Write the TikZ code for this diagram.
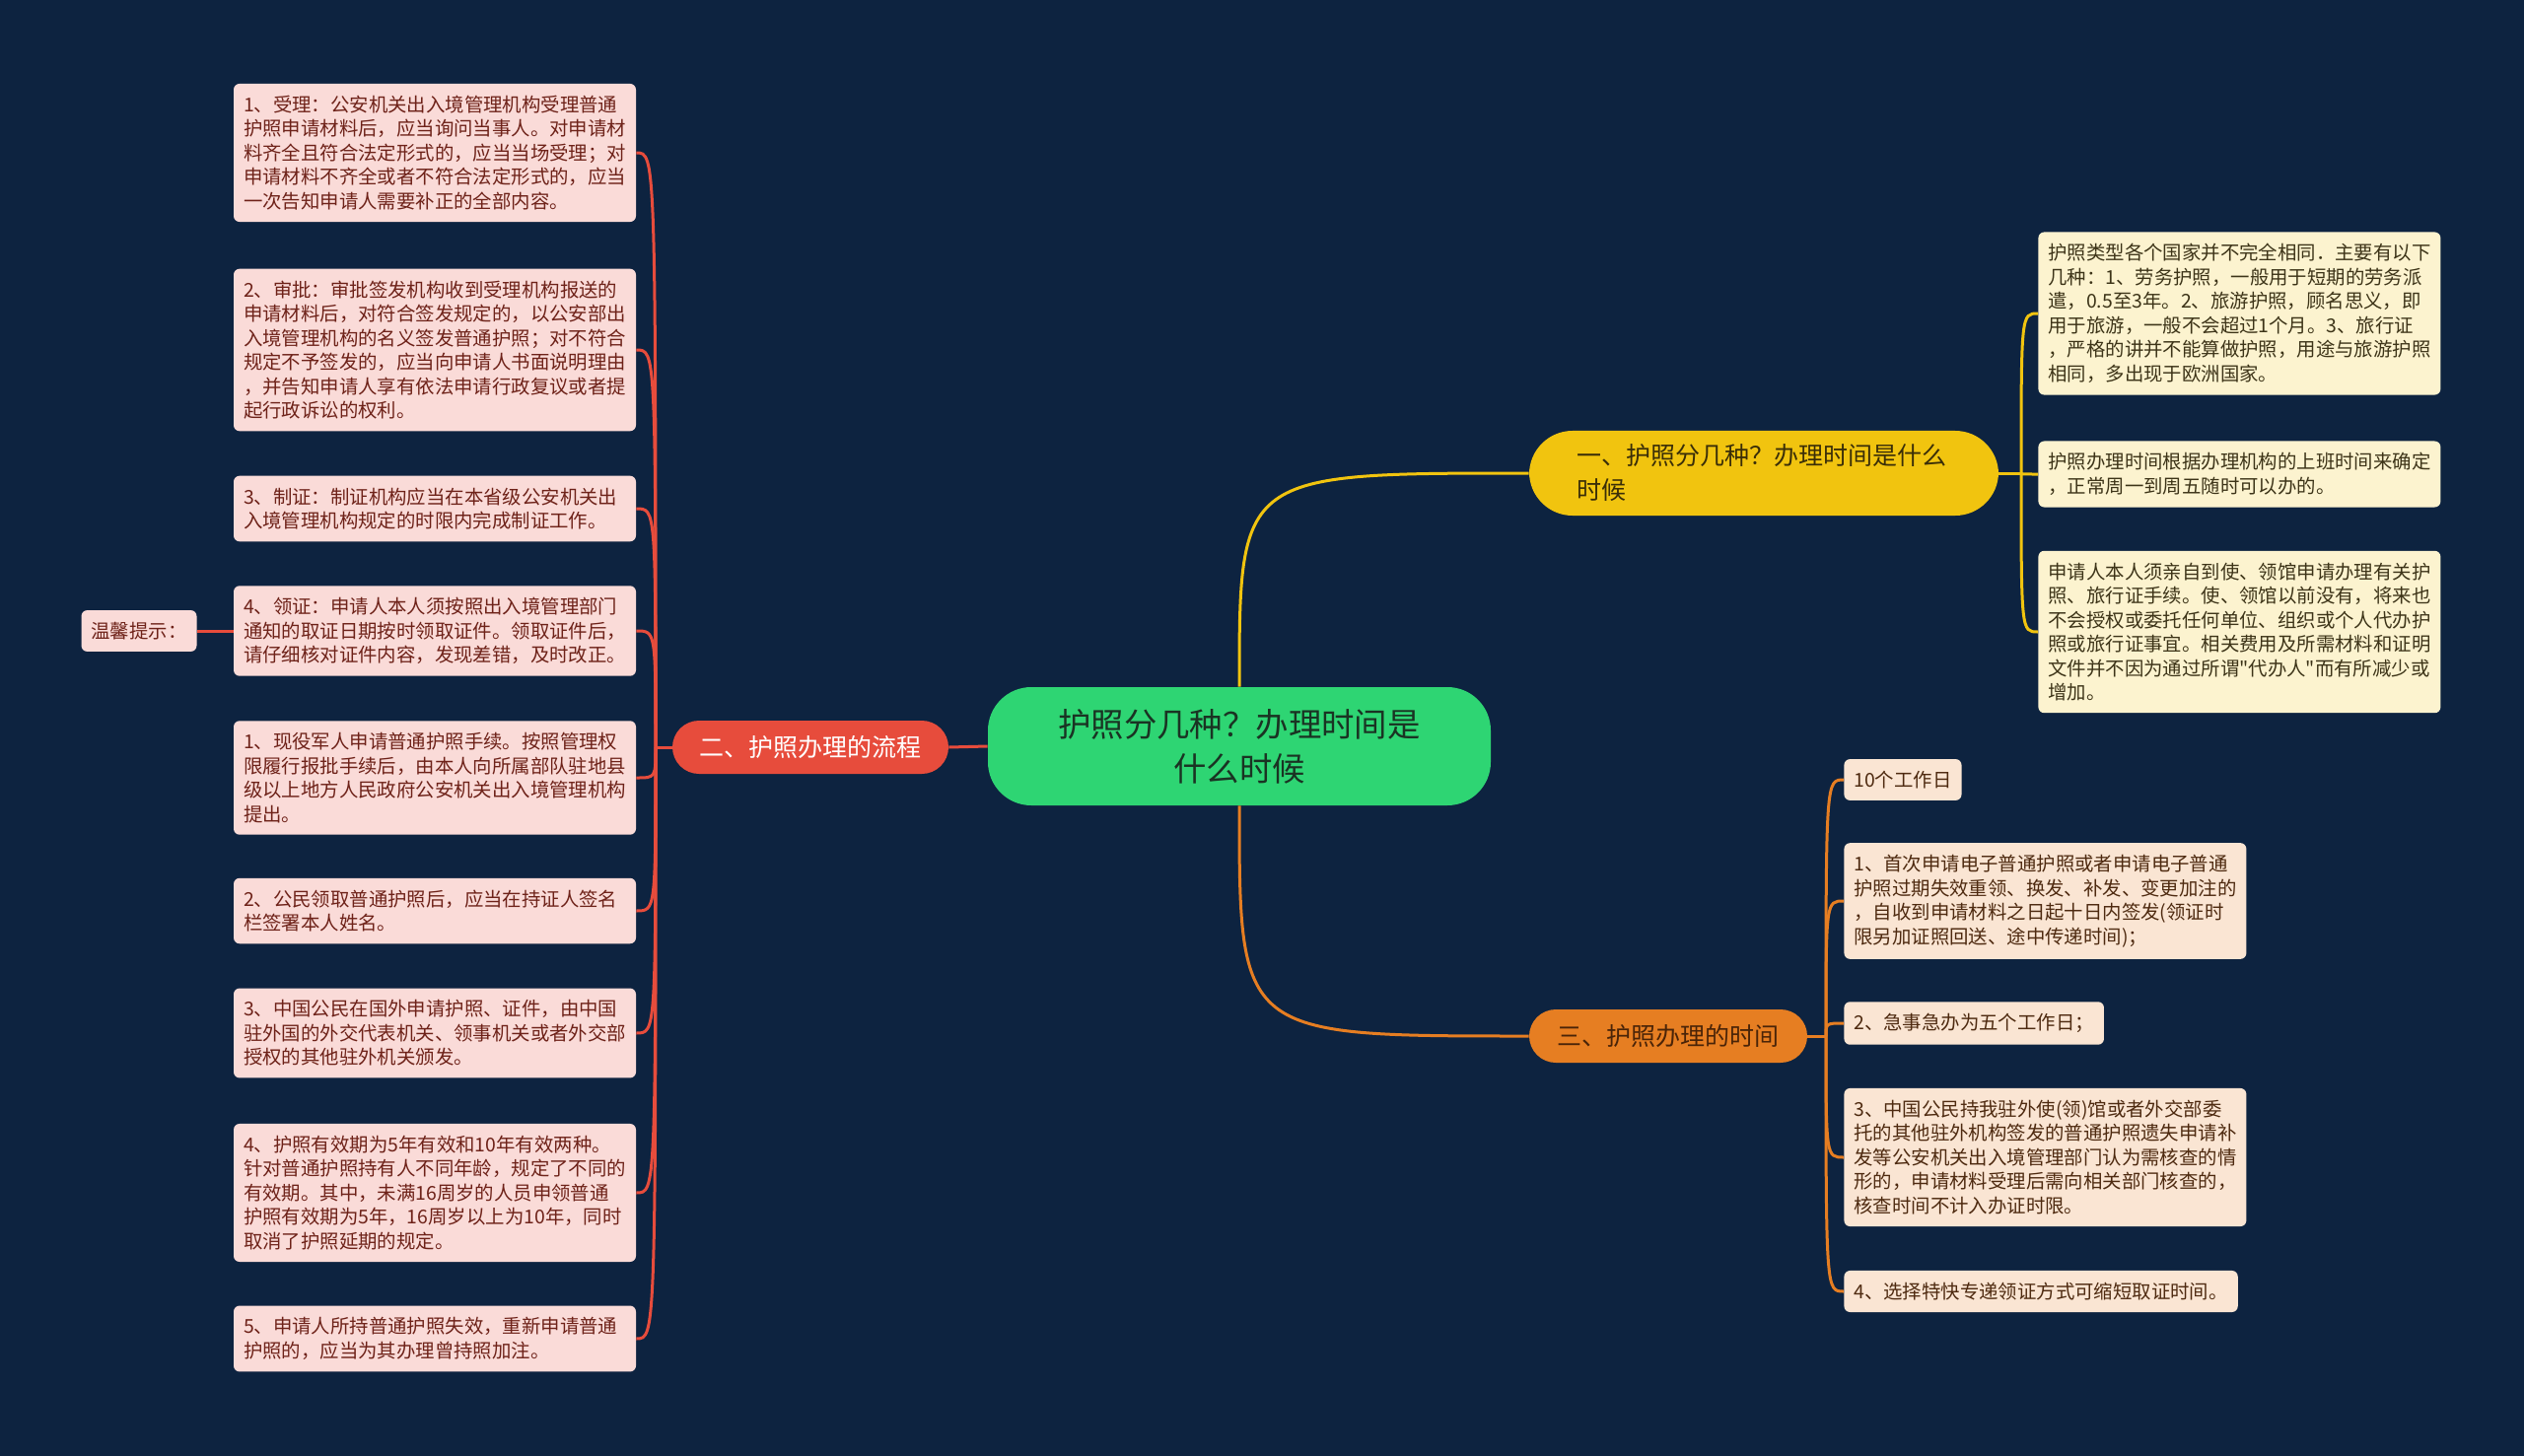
\documentclass[tikz,border=0pt]{standalone}
\usepackage{fontspec}
\setmainfont{Noto Sans CJK SC}[Ligatures=TeXOff]

\definecolor{bgnavy}{HTML}{0D2340}
\definecolor{rootgreen}{HTML}{2ED573}
\definecolor{roottext}{HTML}{1A3323}
\definecolor{ybranch}{HTML}{F1C40F}
\definecolor{ytext}{HTML}{3A2E08}
\definecolor{rbranch}{HTML}{E74C3C}
\definecolor{obranch}{HTML}{E67E22}
\definecolor{otext}{HTML}{4A2408}
\definecolor{pinkleaf}{HTML}{FADBD8}
\definecolor{pinktext}{HTML}{6E2219}
\definecolor{yleaf}{HTML}{FCF3CF}
\definecolor{yleaftext}{HTML}{3D3418}
\definecolor{oleaf}{HTML}{FAE5D3}
\definecolor{oleaftext}{HTML}{4E2A10}

\begin{document}
\begin{tikzpicture}[x=0.5pt, y=-0.5pt,
  root/.style={rectangle, rounded corners=22pt, fill=rootgreen, text=roottext,
    minimum width=255pt, minimum height=60pt, align=center,
    font=\fontsize{16.7pt}{22.5pt}\selectfont},
  branch/.style={rectangle, rounded corners=13.5pt, minimum height=27pt,
    align=center, font=\fontsize{12.5pt}{17.5pt}\selectfont},
  leaf/.style={rectangle, rounded corners=3pt, inner xsep=5pt, inner ysep=6pt,
    align=left, font=\fontsize{9.7pt}{12.25pt}\selectfont},
  pleaf/.style={leaf, fill=pinkleaf, text=pinktext},
  yleafbox/.style={leaf, fill=yleaf, text=yleaftext},
  oleafbox/.style={leaf, fill=oleaf, text=oleaftext},
  rline/.style={draw=rbranch, line width=1.5pt},
  yline/.style={draw=ybranch, line width=1.5pt},
  oline/.style={draw=obranch, line width=1.5pt}]
  % background
  \fill[bgnavy] (0,0) rectangle (2560,1477);
  \useasboundingbox (0,0) rectangle (2560,1477);

  % central topic and main branches
  \node[root] (root) at (1257,757) {护照分几种？办理时间是\\什么时候};
  \node[branch, fill=ybranch, text=ytext, rounded corners=22pt, text width=190pt,
    inner xsep=24pt, inner ysep=7pt, align=left] (b1) at (1789,480)
    {一、护照分几种？办理时间是什么\\时候};
  \node[branch, fill=rbranch, text=white, minimum width=140pt] (b2) at (822,758) {二、护照办理的流程};
  \node[branch, fill=obranch, text=otext, minimum width=141pt] (b3) at (1692,1051) {三、护照办理的时间};

  % junctions
  \coordinate (j1) at (2050,480);
  \coordinate (j2) at (665,758);
  \coordinate (j3) at (1852,1051);

  % left leaves
  \node[pleaf, text width=194pt] (p1) at (441,155) {1、受理：公安机关出入境管理机构受理普通\\护照申请材料后，应当询问当事人。对申请材\\料齐全且符合法定形式的，应当当场受理；对\\申请材料不齐全或者不符合法定形式的，应当\\一次告知申请人需要补正的全部内容。};
  \node[pleaf, text width=194pt] (p2) at (441,355) {2、审批：审批签发机构收到受理机构报送的\\申请材料后，对符合签发规定的，以公安部出\\入境管理机构的名义签发普通护照；对不符合\\规定不予签发的，应当向申请人书面说明理由\\，并告知申请人享有依法申请行政复议或者提\\起行政诉讼的权利。};
  \node[pleaf, text width=194pt] (p3) at (441,516) {3、制证：制证机构应当在本省级公安机关出\\入境管理机构规定的时限内完成制证工作。};
  \node[pleaf, text width=194pt] (p4) at (441,640) {4、领证：申请人本人须按照出入境管理部门\\通知的取证日期按时领取证件。领取证件后，\\请仔细核对证件内容，发现差错，及时改正。};
  \node[pleaf, text width=194pt] (p5) at (441,789) {1、现役军人申请普通护照手续。按照管理权\\限履行报批手续后，由本人向所属部队驻地县\\级以上地方人民政府公安机关出入境管理机构\\提出。};
  \node[pleaf, text width=194pt] (p6) at (441,924) {2、公民领取普通护照后，应当在持证人签名\\栏签署本人姓名。};
  \node[pleaf, text width=194pt] (p7) at (441,1048) {3、中国公民在国外申请护照、证件，由中国\\驻外国的外交代表机关、领事机关或者外交部\\授权的其他驻外机关颁发。};
  \node[pleaf, text width=194pt] (p8) at (441,1210) {4、护照有效期为5年有效和10年有效两种。\\针对普通护照持有人不同年龄，规定了不同的\\有效期。其中，未满16周岁的人员申领普通\\护照有效期为5年，16周岁以上为10年，同时\\取消了护照延期的规定。};
  \node[pleaf, text width=194pt] (p9) at (441,1358) {5、申请人所持普通护照失效，重新申请普通\\护照的，应当为其办理曾持照加注。};
  \node[pleaf] (tip) at (141,640) {温馨提示：};

  % right upper leaves
  \node[yleafbox, text width=194pt, anchor=west] (y1) at (2067,318) {护照类型各个国家并不完全相同．主要有以下\\几种：1、劳务护照，一般用于短期的劳务派\\遣，0.5至3年。2、旅游护照，顾名思义，即\\用于旅游，一般不会超过1个月。3、旅行证\\，严格的讲并不能算做护照，用途与旅游护照\\相同，多出现于欧洲国家。};
  \node[yleafbox, text width=194pt, anchor=west] (y2) at (2067,481) {护照办理时间根据办理机构的上班时间来确定\\，正常周一到周五随时可以办的。};
  \node[yleafbox, text width=194pt, anchor=west] (y3) at (2067,641) {申请人本人须亲自到使、领馆申请办理有关护\\照、旅行证手续。使、领馆以前没有，将来也\\不会授权或委托任何单位、组织或个人代办护\\照或旅行证事宜。相关费用及所需材料和证明\\文件并不因为通过所谓"代办人"而有所减少或\\增加。};

  % right lower leaves
  \node[oleafbox, anchor=west] (o1) at (1870,791) {10个工作日};
  \node[oleafbox, text width=194pt, anchor=west] (o2) at (1870,914) {1、首次申请电子普通护照或者申请电子普通\\护照过期失效重领、换发、补发、变更加注的\\，自收到申请材料之日起十日内签发(领证时\\限另加证照回送、途中传递时间)；};
  \node[oleafbox, anchor=west] (o3) at (1870,1038) {2、急事急办为五个工作日；};
  \node[oleafbox, text width=194pt, anchor=west] (o4) at (1870,1174) {3、中国公民持我驻外使(领)馆或者外交部委\\托的其他驻外机构签发的普通护照遗失申请补\\发等公安机关出入境管理部门认为需核查的情\\形的，申请材料受理后需向相关部门核查的，\\核查时间不计入办证时限。};
  \node[oleafbox, anchor=west] (o5) at (1870,1310) {4、选择特快专递领证方式可缩短取证时间。};

  % connectors
  \draw[yline] (root.north) .. controls (root.north |- b1.west) .. (b1.west);
  \draw[yline] (b1.east) -- (j1);
  \foreach \n in {y1,y2,y3}
    \draw[yline] (j1) .. controls (j1 |- \n.west) .. (\n.west);
  \draw[rline] (root.west) -- (b2.east);
  \draw[rline] (b2.west) -- (j2);
  \foreach \n in {p1,p2,p3,p4,p5,p6,p7,p8,p9}
    \draw[rline] (j2) .. controls (j2 |- \n.east) .. (\n.east);
  \draw[rline] (p4.west) -- (tip.east);
  \draw[oline] (root.south) .. controls (root.south |- b3.west) .. (b3.west);
  \draw[oline] (b3.east) -- (j3);
  \foreach \n in {o1,o2,o3,o4,o5}
    \draw[oline] (j3) .. controls (j3 |- \n.west) .. (\n.west);
\end{tikzpicture}
\end{document}
